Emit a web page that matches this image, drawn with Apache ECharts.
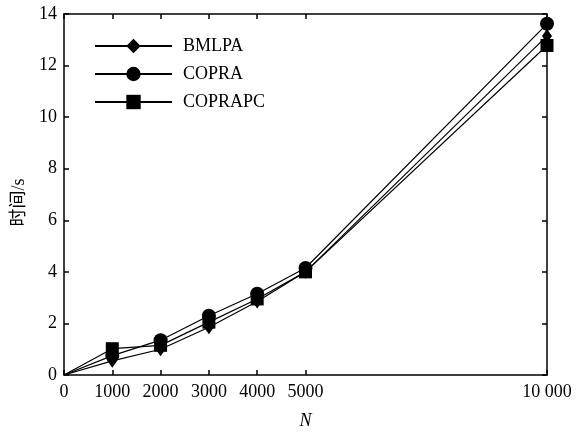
<!DOCTYPE html>
<html><head><meta charset="utf-8">
<script src="https://cdn.jsdelivr.net/npm/echarts@6/dist/echarts.min.js"></script>
<style>html,body{margin:0;padding:0;background:#fff}#c{width:583px;height:435px}</style>
</head><body><div id="c"></div>
<script>
const xValues = [0, 1000, 2000, 3000, 4000, 5000, 10000];
const tickValues = [0, 1000, 2000, 3000, 4000, 5000, 10000];
const bmlpa = [0, 0.55, 1.0, 1.85, 2.85, 4.0, 13.15];
const copra = [0, 0.75, 1.35, 2.3, 3.15, 4.15, 13.62];
const coprapc = [0, 1.02, 1.15, 2.05, 2.95, 4.0, 12.78];
const seriesNames = ['BMLPA', 'COPRA', 'COPRAPC'];

const font = "'Liberation Serif', 'Times New Roman', 'Noto Sans CJK SC', serif";
const chart = echarts.init(document.getElementById('c'), null, {renderer: 'canvas'});
function pairs(ys){
  return xValues.map((x,i)=> i===0 ? {value:[x, ys[i]], symbol:'none'} : [x, ys[i]]);
}
const symbols = [['diamond',[10,14]], ['circle',14], ['rect',13]];
const datas = [bmlpa, copra, coprapc];
const axisLineStyle = {color:'#000', width:1.5};
const tickStyle = {color:'#000', width:1.5};
chart.setOption({
  animation:false,
  grid:{left:64, right:36, top:14, bottom:59},
  legend:{
    orient:'vertical', left:89, top:32, itemWidth:77, itemHeight:18, itemGap:10,
    textStyle:{fontFamily:font, fontSize:18, color:'#000', padding:[0,0,0,6]},
    data: seriesNames
  },
  xAxis:[{
    type:'value', min:0, max:10000, interval:1000,
    name:'N', nameLocation:'middle', nameGap:37,
    nameTextStyle:{fontFamily:font, fontStyle:'italic', fontSize:18, color:'#000'},
    axisLine:{onZero:false, lineStyle:axisLineStyle},
    axisTick:{inside:true, length:5, lineStyle:tickStyle, customValues:tickValues},
    axisLabel:{customValues:tickValues, fontFamily:font, fontSize:18, color:'#000', margin:8,
      formatter:v=> v===10000 ? '10 000' : String(v)},
    splitLine:{show:false}
  },{
    type:'value', position:'top', min:0, max:10000, interval:1000, show:true,
    axisLine:{show:true, onZero:false, lineStyle:axisLineStyle},
    axisTick:{show:true, inside:true, length:5, lineStyle:tickStyle, customValues:tickValues},
    axisLabel:{show:false}, splitLine:{show:false}
  }],
  yAxis:[{
    type:'value', min:0, max:14, interval:2,
    name:'时间/s', nameLocation:'middle', nameGap:31, nameRotate:90,
    nameTextStyle:{fontFamily:font, fontSize:18, color:'#000', padding:[0,16,0,0]},
    axisLine:{show:true, onZero:false, lineStyle:axisLineStyle},
    axisTick:{show:true, inside:true, length:5, lineStyle:tickStyle},
    axisLabel:{fontFamily:font, fontSize:18, color:'#000', margin:7},
    splitLine:{show:false}
  },{
    type:'value', position:'right', min:0, max:14, interval:2, show:true,
    axisLine:{show:true, onZero:false, lineStyle:axisLineStyle},
    axisTick:{show:true, inside:true, length:5, lineStyle:tickStyle},
    axisLabel:{show:false}, splitLine:{show:false}
  }],
  series: seriesNames.map((n,i)=>({
    name:n, type:'line', data:pairs(datas[i]),
    symbol:symbols[i][0], symbolSize:symbols[i][1], showAllSymbol:true,
    itemStyle:{color:'#000'}, lineStyle:{color:'#000', width:1.2},
    emphasis:{disabled:true}
  })).concat([{
    name:'_axes', type:'line', xAxisIndex:1, yAxisIndex:1, data:[[0,0],[10000,0]],
    symbol:'none', lineStyle:{opacity:0}, silent:true, tooltip:{show:false}
  }])
});
</script></body></html>
